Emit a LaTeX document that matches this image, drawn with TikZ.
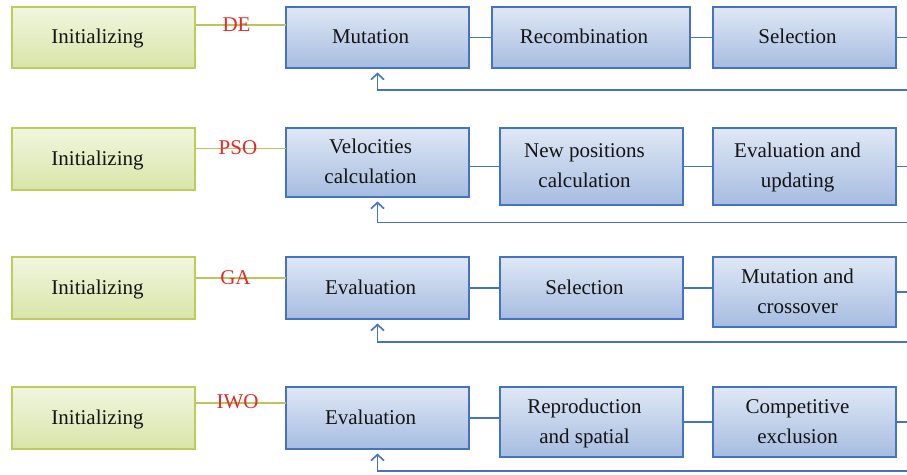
\documentclass[tikz,border=0pt]{standalone}
\usepackage{fontspec}
\setmainfont{Liberation Serif}
\usetikzlibrary{arrows.meta}
\definecolor{btop}{HTML}{DFE8F5}
\definecolor{bbot}{HTML}{A6BCE0}
\definecolor{bborder}{HTML}{4472C4}
\definecolor{gtop}{HTML}{F1F6DF}
\definecolor{gbot}{HTML}{D8E5A8}
\definecolor{gborder}{HTML}{BFCC5C}
\definecolor{gln}{HTML}{BCC45A}
\definecolor{lblred}{HTML}{E52A2A}
\definecolor{txtc}{HTML}{141414}
\tikzset{
  initbox/.style={draw=gborder, line width=1.8pt, top color=gtop, bottom color=gbot,
    minimum width=183pt, inner sep=0pt, outer sep=0pt, anchor=north west},
  stepbox/.style={draw=bborder, line width=1.8pt, top color=btop, bottom color=bbot,
    inner sep=0pt, outer sep=0pt, anchor=north west},
  txt/.style={font=\fontsize{21}{30}\selectfont, align=center, text=txtc, inner sep=0pt},
  lbl/.style={font=\fontsize{21}{30}\selectfont, text=lblred, inner sep=0pt},
  gline/.style={draw=gln, line width=1.6pt},
  bline/.style={draw=bborder, line width=1.6pt},
  barrow/.style={draw=bborder, line width=1.6pt, shorten >=4.5pt,
    -{Straight Barb[length=6pt,width=13pt,line width=1.6pt]}},
}
\begin{document}
\begin{tikzpicture}[x=1pt,y=-1pt]
\useasboundingbox (0,0) rectangle (907,474);
\coordinate (edge) at (907,0);

% ---------- Row 1: DE ----------
\node[initbox, minimum height=61pt] (i1) at (12,7) {};
\node[stepbox, minimum width=183pt, minimum height=61pt] (a1) at (286,7) {};
\node[stepbox, minimum width=198pt, minimum height=61pt] (b1) at (492,7) {};
\node[stepbox, minimum width=183pt, minimum height=61pt] (c1) at (713,7) {};
\node[txt] (i1t) at ([xshift=-6pt]i1.center) {Initializing\strut};
\node[txt] (a1t) at ([xshift=-7pt]a1.center) {Mutation\strut};
\node[txt] (b1t) at ([xshift=-7pt]b1.center) {Recombination\strut};
\node[txt] (c1t) at ([xshift=-7pt]c1.center) {Selection\strut};
\draw[gline] (i1.east |- 0,25) -- (a1.west |- 0,25);
\node[lbl] (l1) at (236.5,25) {DE\strut};
\draw[bline] (a1.east) -- (b1.west);
\draw[bline] (b1.east) -- (c1.west);
\draw[bline] (c1.east) -- (c1.east -| edge);
\coordinate (f1) at (907,90);
\draw[barrow] (f1) -| (a1.south);

% ---------- Row 2: PSO ----------
\node[initbox, minimum height=62pt] (i2) at (12,128) {};
\node[stepbox, minimum width=183pt, minimum height=69pt] (a2) at (286,128) {};
\node[stepbox, minimum width=183pt, minimum height=77pt] (b2) at (500,128) {};
\node[stepbox, minimum width=183pt, minimum height=77pt] (c2) at (713,128) {};
\node[txt] (i2t) at ([xshift=-6pt]i2.center) {Initializing\strut};
\node[txt] (a2t) at ([xshift=-7pt]a2.center) {Velocities\strut\\calculation\strut};
\node[txt] (b2t) at ([xshift=-7pt]b2.center) {New positions\strut\\calculation\strut};
\node[txt] (c2t) at ([xshift=-7pt]c2.center) {Evaluation and\strut\\updating\strut};
\draw[gline] (i2.east |- 0,148.5) -- (a2.west |- 0,148.5);
\node[lbl] (l2) at (238,148.5) {PSO\strut};
\draw[bline] (b2.west -| a2.east) -- (b2.west);
\draw[bline] (b2.east) -- (c2.west);
\draw[bline] (c2.east) -- (c2.east -| edge);
\coordinate (f2) at (907,222.5);
\draw[barrow] (f2) -| (a2.south);

% ---------- Row 3: GA ----------
\node[initbox, minimum height=62pt] (i3) at (12,257) {};
\node[stepbox, minimum width=183pt, minimum height=62pt] (a3) at (286,257) {};
\node[stepbox, minimum width=183pt, minimum height=62pt] (b3) at (500,257) {};
\node[stepbox, minimum width=183pt, minimum height=70pt] (c3) at (713,257) {};
\node[txt] (i3t) at ([xshift=-6pt]i3.center) {Initializing\strut};
\node[txt] (a3t) at ([xshift=-7pt]a3.center) {Evaluation\strut};
\node[txt] (b3t) at ([xshift=-7pt]b3.center) {Selection\strut};
\node[txt] (c3t) at ([xshift=-7pt]c3.center) {Mutation and\strut\\crossover\strut};
\draw[gline] (i3.east |- 0,278) -- (a3.west |- 0,278);
\node[lbl] (l3) at (235.5,278) {GA\strut};
\draw[bline] (a3.east) -- (b3.west);
\draw[bline] (b3.east) -- (b3.east -| c3.west);
\draw[bline] (c3.east) -- (c3.east -| edge);
\coordinate (f3) at (907,342);
\draw[barrow] (f3) -| (a3.south);

% ---------- Row 4: IWO ----------
\node[initbox, minimum height=62pt] (i4) at (12,387) {};
\node[stepbox, minimum width=183pt, minimum height=62pt] (a4) at (286,387) {};
\node[stepbox, minimum width=183pt, minimum height=70pt] (b4) at (500,387) {};
\node[stepbox, minimum width=183pt, minimum height=70pt] (c4) at (713,387) {};
\node[txt] (i4t) at ([xshift=-6pt]i4.center) {Initializing\strut};
\node[txt] (a4t) at ([xshift=-7pt]a4.center) {Evaluation\strut};
\node[txt] (b4t) at ([xshift=-7pt]b4.center) {Reproduction\strut\\and spatial\strut};
\node[txt] (c4t) at ([xshift=-7pt]c4.center) {Competitive\strut\\exclusion\strut};
\draw[gline] (i4.east |- 0,403) -- (a4.west |- 0,403);
\node[lbl] (l4) at (237.5,402) {IWO\strut};
\draw[bline] (a4.east) -- (a4.east -| b4.west);
\draw[bline] (b4.east) -- (c4.west);
\draw[bline] (c4.east) -- (c4.east -| edge);
\coordinate (f4) at (907,471);
\draw[barrow] (f4) -| (a4.south);
\end{tikzpicture}
\end{document}
